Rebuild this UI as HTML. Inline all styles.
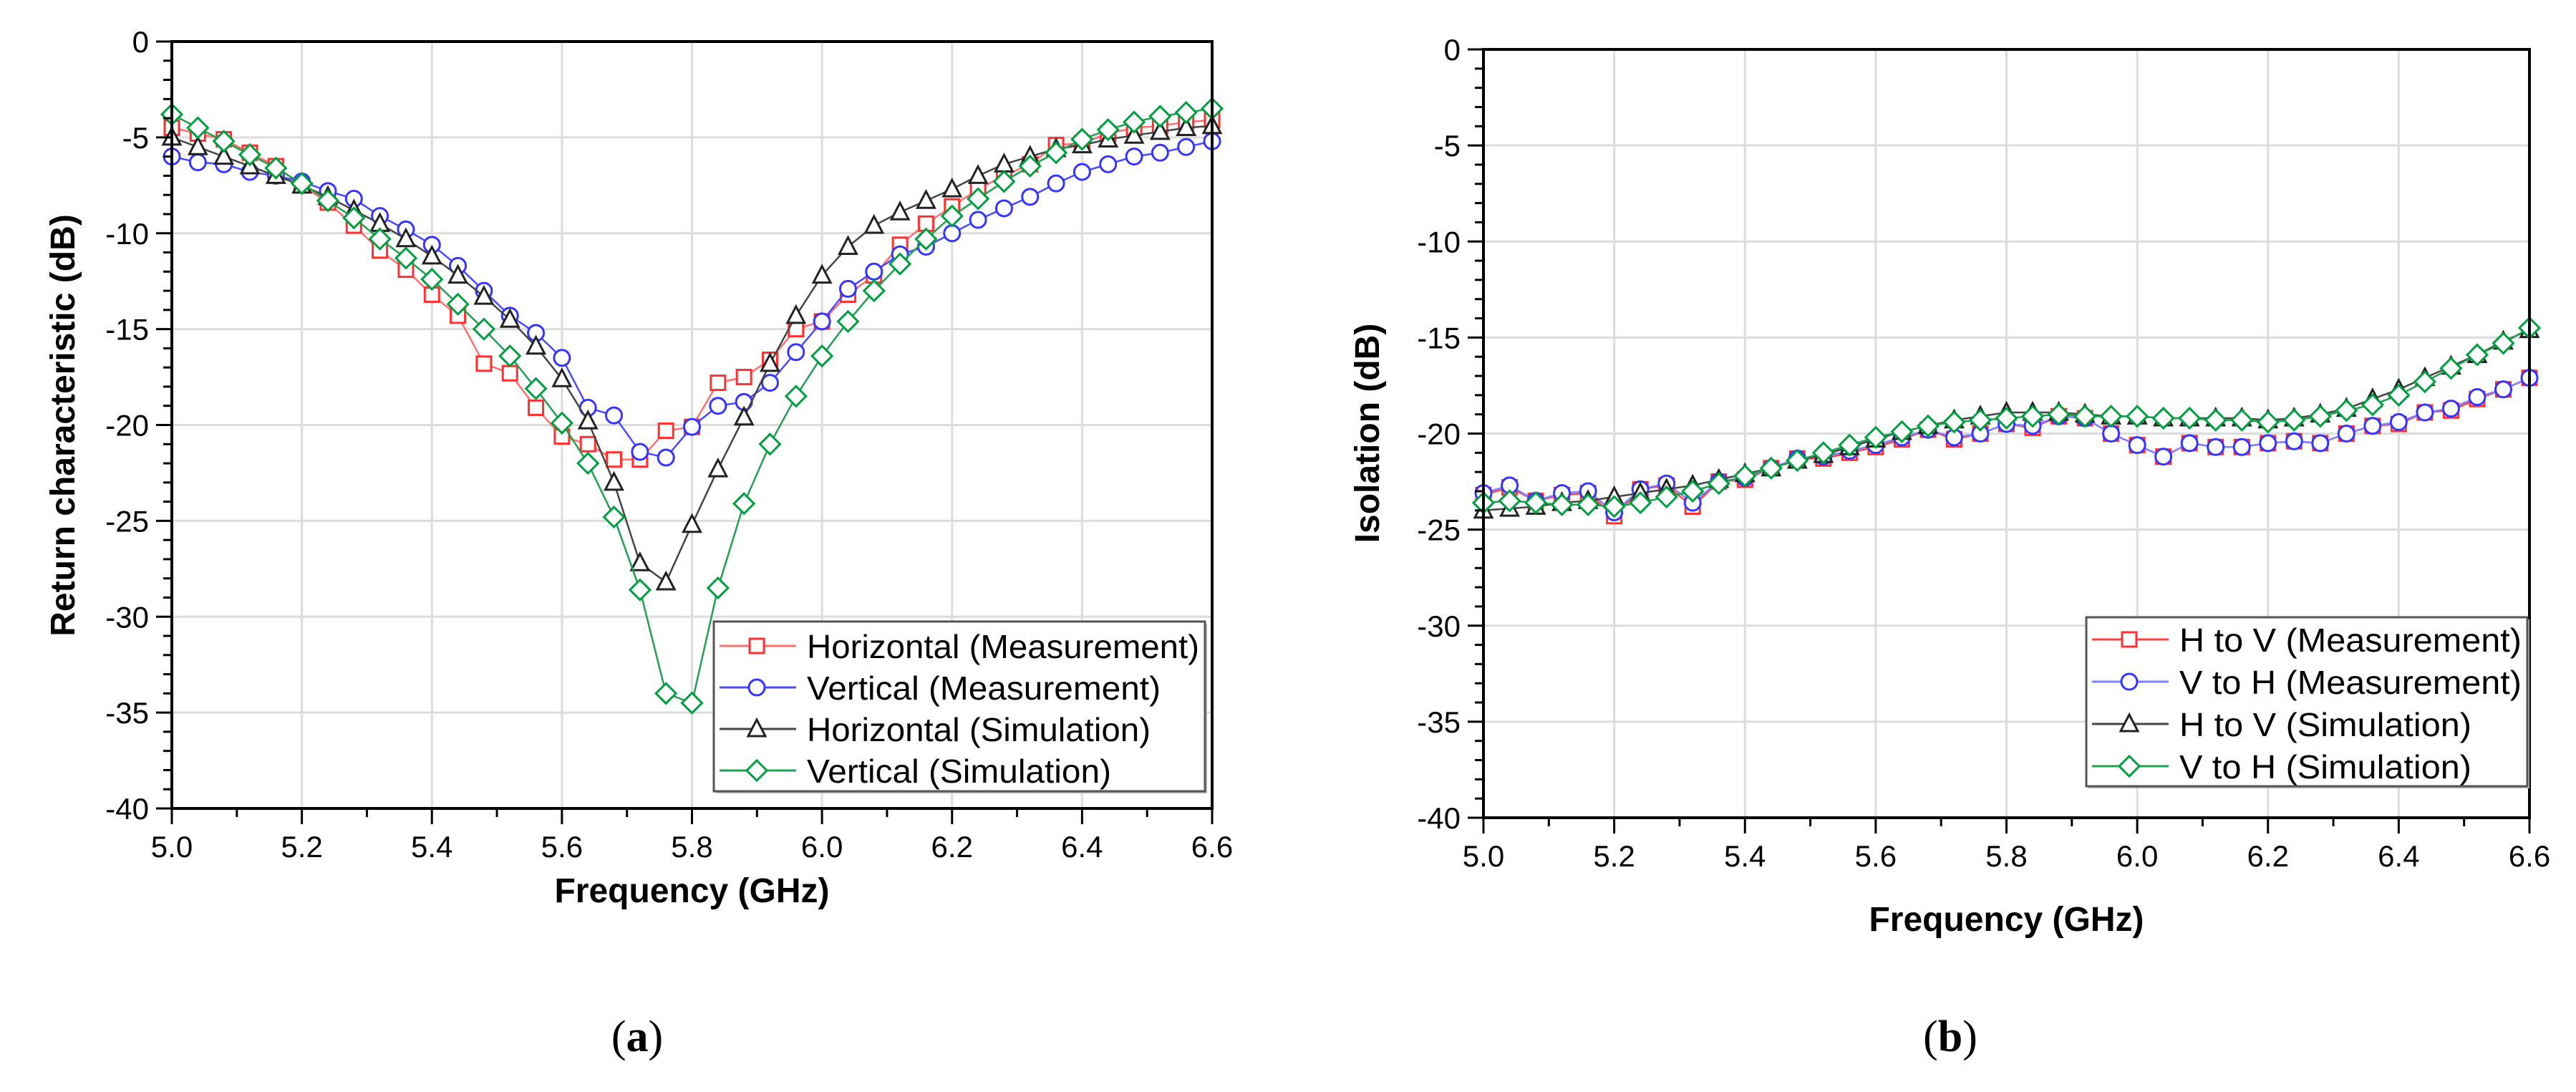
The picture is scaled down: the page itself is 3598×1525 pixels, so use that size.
<!DOCTYPE html>
<html><head><meta charset="utf-8">
<style>
html,body{margin:0;padding:0;background:#fff;}
svg{display:block;}
text{font-family:"Liberation Sans",Arial,sans-serif;}
</style></head>
<body>
<svg id="fig" width="3598" height="1525" viewBox="0 0 3598 1525" xmlns="http://www.w3.org/2000/svg">
<rect width="3598" height="1525" fill="#fff"/>
<g id="chartA"></g>
<g id="chartB"></g>
<text x="890" y="1468" text-anchor="middle" font-size="62" style="font-family:'Liberation Serif',serif">(<tspan font-weight="bold">a</tspan>)</text>
<text x="2724" y="1468" text-anchor="middle" font-size="62" style="font-family:'Liberation Serif',serif">(<tspan font-weight="bold">b</tspan>)</text>
</svg>
<script>
const freqs = [5.0,5.04,5.08,5.12,5.16,5.2,5.24,5.28,5.32,5.36,5.4,5.44,5.48,5.52,5.56,5.6,5.64,5.68,5.72,5.76,5.8,5.84,5.88,5.92,5.96,6.0,6.04,6.08,6.12,6.16,6.2,6.24,6.28,6.32,6.36,6.4,6.44,6.48,6.52,6.56,6.6];
const xTicks = [5.0,5.2,5.4,5.6,5.8,6.0,6.2,6.4,6.6];
const xTickLabels = ["5.0","5.2","5.4","5.6","5.8","6.0","6.2","6.4","6.6"];
const yTicks = [0,-5,-10,-15,-20,-25,-30,-35,-40];
const yTickLabels = ["0","-5","-10","-15","-20","-25","-30","-35","-40"];

// Chart (a)
const aHorizMeas = [-4.5,-4.8,-5.1,-5.8,-6.5,-7.5,-8.4,-9.6,-10.9,-11.9,-13.2,-14.3,-16.8,-17.3,-19.1,-20.6,-21.0,-21.8,-21.8,-20.3,-20.1,-17.8,-17.5,-16.6,-15.0,-14.6,-13.2,-12.2,-10.6,-9.5,-8.6,-7.7,-7.0,-6.4,-5.4,-5.3,-4.8,-4.5,-4.4,-4.2,-4.1];
const aVertMeas = [-6.0,-6.3,-6.4,-6.8,-7.0,-7.3,-7.8,-8.2,-9.1,-9.8,-10.6,-11.7,-13.0,-14.3,-15.2,-16.5,-19.1,-19.5,-21.4,-21.7,-20.1,-19.0,-18.8,-17.8,-16.2,-14.6,-12.9,-12.0,-11.1,-10.7,-10.0,-9.3,-8.7,-8.1,-7.4,-6.8,-6.4,-6.0,-5.8,-5.5,-5.2];
const aHorizSim = [-5.0,-5.5,-6.0,-6.5,-7.0,-7.5,-8.1,-8.8,-9.5,-10.3,-11.2,-12.2,-13.3,-14.5,-15.9,-17.6,-19.8,-23.0,-27.2,-28.2,-25.2,-22.3,-19.6,-16.8,-14.3,-12.2,-10.7,-9.6,-8.9,-8.3,-7.7,-7.0,-6.4,-6.0,-5.6,-5.4,-5.1,-4.9,-4.7,-4.5,-4.4];
const aVertSim = [-3.8,-4.5,-5.2,-5.9,-6.6,-7.4,-8.3,-9.2,-10.3,-11.3,-12.4,-13.7,-15.0,-16.4,-18.1,-19.9,-22.0,-24.8,-28.6,-34.0,-34.5,-28.5,-24.1,-21.0,-18.5,-16.4,-14.6,-13.0,-11.6,-10.3,-9.1,-8.2,-7.3,-6.5,-5.8,-5.1,-4.6,-4.2,-3.9,-3.7,-3.5];

// Chart (b)
const bHtoVMeas = [-23.2,-22.8,-23.5,-23.2,-23.1,-24.3,-22.9,-22.7,-23.8,-22.5,-22.4,-21.8,-21.3,-21.3,-21.0,-20.7,-20.3,-19.8,-20.3,-20.0,-19.5,-19.7,-19.1,-19.2,-20.0,-20.6,-21.2,-20.5,-20.7,-20.7,-20.5,-20.4,-20.5,-20.0,-19.6,-19.5,-18.9,-18.8,-18.2,-17.7,-17.1];
const bVtoHMeas = [-23.1,-22.7,-23.5,-23.1,-23.0,-24.1,-22.9,-22.6,-23.6,-22.5,-22.3,-21.8,-21.3,-21.2,-20.9,-20.6,-20.2,-19.8,-20.2,-20.0,-19.5,-19.6,-19.1,-19.2,-20.0,-20.6,-21.2,-20.5,-20.7,-20.7,-20.5,-20.4,-20.5,-20.0,-19.6,-19.4,-18.9,-18.7,-18.1,-17.7,-17.1];
const bHtoVSim = [-24.0,-23.9,-23.8,-23.6,-23.5,-23.3,-23.1,-22.9,-22.7,-22.4,-22.1,-21.8,-21.4,-21.1,-20.7,-20.3,-19.9,-19.6,-19.3,-19.1,-18.9,-18.9,-18.9,-19.0,-19.1,-19.1,-19.2,-19.2,-19.2,-19.2,-19.3,-19.2,-19.0,-18.7,-18.2,-17.7,-17.1,-16.5,-15.9,-15.2,-14.6];
const bVtoHSim = [-23.6,-23.5,-23.6,-23.7,-23.7,-23.8,-23.6,-23.3,-23.0,-22.6,-22.2,-21.8,-21.4,-21.0,-20.6,-20.2,-19.9,-19.6,-19.4,-19.3,-19.2,-19.1,-19.0,-19.1,-19.1,-19.1,-19.2,-19.2,-19.3,-19.3,-19.4,-19.3,-19.1,-18.8,-18.5,-18.0,-17.3,-16.6,-15.9,-15.3,-14.5];

const NS = "http://www.w3.org/2000/svg";
function mk(parent, tag, attrs, txt){
  const e = document.createElementNS(NS, tag);
  for (const k in attrs) e.setAttribute(k, attrs[k]);
  if (txt !== undefined) e.textContent = txt;
  parent.appendChild(e);
  return e;
}
function marker(g, shape, x, y, color){
  const s = 10;
  let m;
  if (shape === 'square') m = mk(g,'rect',{x:x-s,y:y-s,width:2*s,height:2*s,fill:'#fff',stroke:color,'stroke-width':3});
  else if (shape === 'circle') m = mk(g,'circle',{cx:x,cy:y,r:s+1,fill:'#fff',stroke:color,'stroke-width':3});
  else if (shape === 'triangle') m = mk(g,'polygon',{points:`${x},${y-s-3} ${x+s+2},${y+s} ${x-s-2},${y+s}`,fill:'#fff',stroke:color,'stroke-width':3});
  else m = mk(g,'polygon',{points:`${x},${y-s-4} ${x+s+4},${y} ${x},${y+s+4} ${x-s-4},${y}`,fill:'#fff',stroke:color,'stroke-width':3});
  
  
}

function drawChart(cfg){
  const g = document.getElementById(cfg.id);
  const L=cfg.L,R=cfg.R,T=cfg.T,B=cfg.B;
  const xs = f => L + (f-5.0)/1.6*(R-L);
  const ys = v => T + (0 - v)/40*(B-T);
  // grid
  xTicks.forEach(f => { const l = mk(g,'line',{x1:xs(f),x2:xs(f),y1:T,y2:B,stroke:'#dcdcdc','stroke-width':3});
      });
  yTicks.forEach(v => { const l = mk(g,'line',{x1:L,x2:R,y1:ys(v),y2:ys(v),stroke:'#dcdcdc','stroke-width':3});
      });
  // series
  cfg.series.forEach(s => {
    const sg = mk(g,'g',{});
    
    
    const pts = freqs.map((f,i)=>xs(f)+','+ys(s.data[i])).join(' ');
    mk(sg,'polyline',{points:pts,fill:'none',stroke:s.line,'stroke-width':2.5});
    freqs.forEach((f,i)=>marker(sg,s.shape,xs(f),ys(s.data[i]),s.color));
  });
  // frame
  const fr = mk(g,'rect',{x:L,y:T,width:R-L,height:B-T,fill:'none',stroke:'#000','stroke-width':4});
   
  // ticks
  for (let k=0;k<=16;k++){ const f=5.0+k*0.1; const len = k%2===0?22:12;
    mk(g,'line',{x1:xs(f),x2:xs(f),y1:B,y2:B+len,stroke:'#000','stroke-width':3}); }
  for (let v=0; v>=-40; v--){ const len = v%5===0?22:12;
    mk(g,'line',{x1:L-len,x2:L,y1:ys(v),y2:ys(v),stroke:'#000','stroke-width':3}); }
  xTicks.forEach((f,i)=>{ const t = mk(g,'text',{x:xs(f),y:B+68,'text-anchor':'middle','font-size':42},xTickLabels[i]);
      });
  yTicks.forEach((v,i)=>{ const t = mk(g,'text',{x:L-32,y:ys(v)+15,'text-anchor':'end','font-size':42},yTickLabels[i]);
      });
  const xt = mk(g,'text',{x:(L+R)/2,y:cfg.xTitleY,'text-anchor':'middle','font-size':48,'font-weight':'bold'},'Frequency (GHz)');
   
  const yt = mk(g,'text',{x:0,y:0,'text-anchor':'middle','font-size':48,'font-weight':'bold',transform:`translate(${cfg.yTitleX},${cfg.yTitleY}) rotate(-90)`},cfg.yTitle);
   
  // legend
  const lg = mk(g,'g',{});
   
  const lb = cfg.legend;
  mk(lg,'rect',{x:lb.x+3,y:lb.y+3,width:lb.w,height:lb.h,fill:'#bbb'});
  mk(lg,'rect',{x:lb.x,y:lb.y,width:lb.w,height:lb.h,fill:'#fff',stroke:'#555','stroke-width':3});
  cfg.series.forEach((s,i)=>{
    const y = lb.rows[i];
    const eg = mk(lg,'g',{});
    
    
    mk(eg,'line',{x1:lb.x+8,x2:lb.x+115,y1:y,y2:y,stroke:s.line,'stroke-width':3});
    marker(eg,s.shape,lb.x+60,y,s.color);
    mk(eg,'text',{x:lb.x+130,y:y+17,'font-size':46,textLength:s.tl,lengthAdjust:'spacingAndGlyphs'},s.label);
  });
}

drawChart({id:'chartA',L:240,R:1693,T:58,B:1129,xTitleY:1260,yTitle:'Return characteristic (dB)',yTitleX:104,yTitleY:594,
  legend:{x:997,y:868,w:686,h:237,rows:[902,960,1018,1076]},
  series:[
    {name:'series-horizontal-measurement',label:'Horizontal (Measurement)',data:aHorizMeas,shape:'square',color:'#ff3030',line:'#ff7070',tl:548},
    {name:'series-vertical-measurement',label:'Vertical (Measurement)',data:aVertMeas,shape:'circle',color:'#3535ff',line:'#4a4aff',tl:494},
    {name:'series-horizontal-simulation',label:'Horizontal (Simulation)',data:aHorizSim,shape:'triangle',color:'#222',line:'#444',tl:480},
    {name:'series-vertical-simulation',label:'Vertical (Simulation)',data:aVertSim,shape:'diamond',color:'#00a040',line:'#20a050',tl:425}
  ]});
drawChart({id:'chartB',L:2072,R:3533,T:69,B:1142,xTitleY:1300,yTitle:'Isolation (dB)',yTitleX:1926,yTitleY:605,
  legend:{x:2914,y:862,w:616,h:236,rows:[893,952,1011,1070]},
  series:[
    {name:'series-h-to-v-measurement',label:'H to V (Measurement)',data:bHtoVMeas,shape:'square',color:'#ff3030',line:'#ff4040',tl:478},
    {name:'series-v-to-h-measurement',label:'V to H (Measurement)',data:bVtoHMeas,shape:'circle',color:'#3535ff',line:'#8080ff',tl:478},
    {name:'series-h-to-v-simulation',label:'H to V (Simulation)',data:bHtoVSim,shape:'triangle',color:'#222',line:'#444',tl:408},
    {name:'series-v-to-h-simulation',label:'V to H (Simulation)',data:bVtoHSim,shape:'diamond',color:'#00a040',line:'#20a050',tl:408}
  ]});
</script>
</body></html>
